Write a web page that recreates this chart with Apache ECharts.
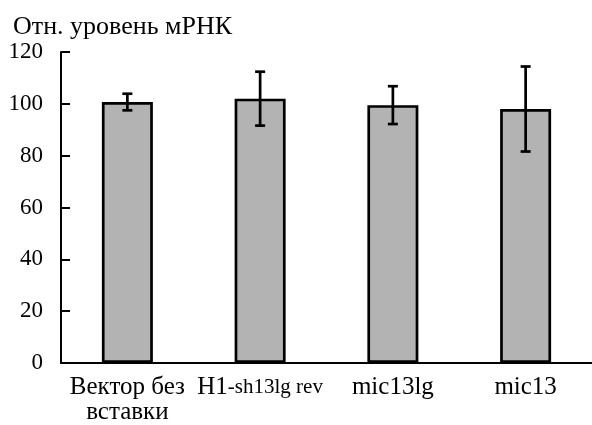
<!DOCTYPE html>
<html>
<head>
<meta charset="utf-8">
<script src="https://cdn.jsdelivr.net/npm/echarts@6/dist/echarts.min.js"></script>
<style>
  html, body { margin: 0; padding: 0; background: #fff; }
  #main { width: 592px; height: 425px; }
</style>
</head>
<body>
<div id="main"></div>
<script>
var categories = ['Вектор без\nвставки', 'H1-sh13lg rev', 'mic13lg', 'mic13'];
var values = [100.7, 102, 99.5, 98];
var errors = [3.2, 10.4, 7.3, 16.4];
var yMin = 0, yMax = 120, yStep = 20;

var fontName = 'Liberation Serif';

var errData = values.map(function (v, i) {
  return [i, v - errors[i], v + errors[i]];
});

var chart = echarts.init(document.getElementById('main'));
var option = {
  animation: false,
  backgroundColor: '#ffffff',
  title: {
    text: 'Отн. уровень мРНК',
    left: 8,
    top: 9,
    textStyle: { fontFamily: fontName, fontSize: 26, fontWeight: 'normal', color: '#000' }
  },
  grid: { left: 61, top: 52, width: 536, height: 311 },
  xAxis: {
    type: 'category',
    data: categories,
    axisLine: { lineStyle: { color: '#000', width: 2 } },
    axisTick: { inside: true, length: 9, lineStyle: { color: '#000', width: 2 } },
    axisLabel: {
      interval: 0,
      margin: 12,
      color: '#000',
      fontFamily: fontName,
      fontSize: 25,
      lineHeight: 25,
      formatter: function (v) {
        if (v.indexOf('H1') === 0) {
          return '{a|H1}{b|' + v.slice(2) + '}';
        }
        return '{c|' + v.split('\n').join('}\n{c|') + '}';
      },
      rich: {
        a: { fontFamily: fontName, fontSize: 25, color: '#000', lineHeight: 25 },
        b: { fontFamily: fontName, fontSize: 21, color: '#000', lineHeight: 25 },
        c: { fontFamily: fontName, fontSize: 25, color: '#000', lineHeight: 25 }
      }
    }
  },
  yAxis: {
    type: 'value',
    min: yMin,
    max: yMax,
    interval: yStep,
    splitLine: { show: false },
    axisLine: { show: true, lineStyle: { color: '#000', width: 2 } },
    axisTick: { show: true, inside: true, length: 9, lineStyle: { color: '#000', width: 2 } },
    axisLabel: { margin: 18, color: '#000', fontFamily: fontName, fontSize: 23 }
  },
  series: [{
    type: 'bar',
    data: values,
    barWidth: 51,
    itemStyle: { color: '#b3b3b3', borderColor: '#000', borderWidth: 2.7 }
  }, {
    type: 'custom',
    data: errData,
    z: 10,
    renderItem: function (params, api) {
      var x = api.value(0);
      var lo = api.coord([x, api.value(1)]);
      var hi = api.coord([x, api.value(2)]);
      var half = 5;
      var style = { stroke: '#000', lineWidth: 2.7 };
      return {
        type: 'group',
        children: [
          { type: 'line', shape: { x1: hi[0], y1: hi[1], x2: lo[0], y2: lo[1] }, style: style },
          { type: 'line', shape: { x1: hi[0] - half, y1: hi[1], x2: hi[0] + half, y2: hi[1] }, style: style },
          { type: 'line', shape: { x1: lo[0] - half, y1: lo[1], x2: lo[0] + half, y2: lo[1] }, style: style }
        ]
      };
    }
  }]
};
chart.setOption(option);
</script>
</body>
</html>
